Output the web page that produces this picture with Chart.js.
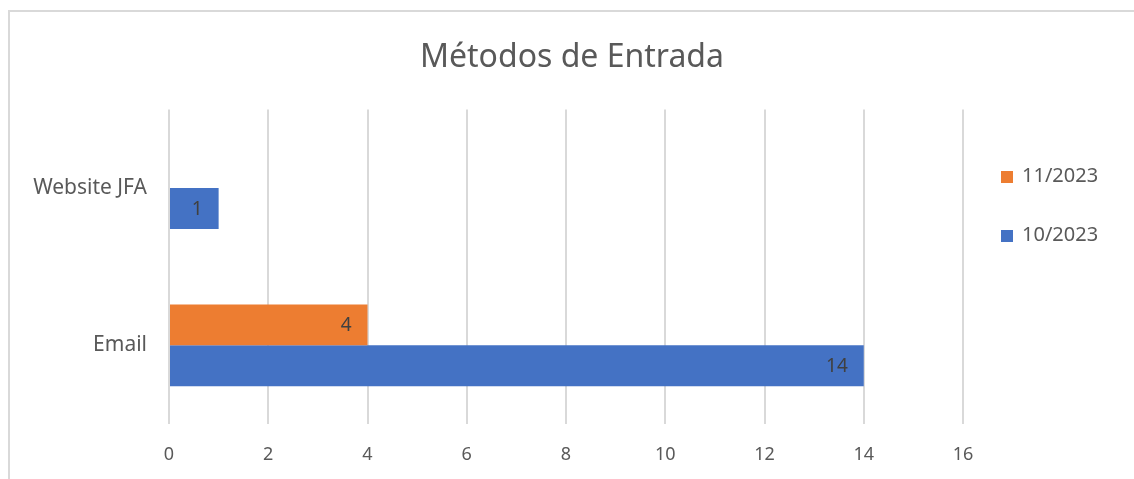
<!DOCTYPE html>
<html lang="pt">
<head>
    <meta charset="UTF-8">
    <title>Métodos de Entrada</title>
    <script src="https://cdn.jsdelivr.net/npm/chart.js"></script>
    <style>
        body { margin: 0; background: #fff; font-family: "Noto Sans", sans-serif; }
        #wrap {
            position: absolute; left: 8px; top: 10px;
            width: 1124px; height: 467px;
            border-left: 2px solid #d9d9d9; border-top: 2px solid #d9d9d9;
        }
        #legend { position: absolute; left: 991px; top: 159px; }
        .item { position: relative; height: 59px; color: #595959; font-size: 20px; }
        .item span.box { position: absolute; left: 0; top: 0; width: 12px; height: 12px; }
        .item span.txt { position: absolute; left: 21px; top: -10px; }
    </style>
</head>
<body>
<div id="wrap">
    <canvas id="myChart" width="1124" height="467"></canvas>
    <div id="legend"></div>
</div>
<script>
const categories = ['Website JFA', 'Email'];
const seriesNames = ['11/2023', '10/2023'];
const nov2023 = [null, 4];
const oct2023 = [1, 14];
const seriesColors = ['#ED7D31', '#4472C4'];
const xTicks = [0, 2, 4, 6, 8, 10, 12, 14, 16];

// legend, same order as the datasets
const legendBox = document.getElementById('legend');
seriesNames.forEach((name, i) => {
    const d = document.createElement('div');
    d.className = 'item';
    d.innerHTML = '<span class="box" style="background:' + seriesColors[i] + '"></span><span class="txt">' + name + '</span>';
    legendBox.appendChild(d);
});

// values written inside the end of each bar
const barLabels = {
    id: 'barLabels',
    afterDatasetsDraw(chart) {
        const ctx = chart.ctx;
        ctx.save();
        ctx.font = '19px "Noto Sans"';
        ctx.fillStyle = '#404040';
        ctx.textAlign = 'right';
        ctx.textBaseline = 'middle';
        chart.data.datasets.forEach((ds, i) => {
            chart.getDatasetMeta(i).data.forEach((bar, j) => {
                const v = ds.data[j];
                if (v === null || v === undefined) return;
                ctx.fillText(String(v), bar.x - 16, bar.y + 1);
            });
        });
        ctx.restore();
    }
};

new Chart(document.getElementById('myChart'), {
    type: 'bar',
    data: {
        labels: categories,
        datasets: [
            { label: seriesNames[0], data: nov2023, backgroundColor: seriesColors[0] },
            { label: seriesNames[1], data: oct2023, backgroundColor: seriesColors[1] }
        ]
    },
    plugins: [barLabels],
    options: {
        indexAxis: 'y',
        responsive: false,
        animation: false,
        categoryPercentage: 0.52,
        barPercentage: 1,
        layout: { padding: 0 },
        plugins: {
            legend: { display: false },
            tooltip: { enabled: false },
            title: {
                display: true,
                text: 'Métodos de Entrada',
                color: '#595959',
                font: { family: 'Noto Sans', size: 32, weight: 'normal' },
                padding: { top: 27, bottom: 32 }
            }
        },
        scales: {
            x: {
                min: 0, max: 16,
                afterBuildTicks: s => { s.ticks = xTicks.map(v => ({ value: v })); },
                afterFit: s => { s.height = 55; },
                grid: { color: '#d9d9d9', lineWidth: 2, drawTicks: false },
                border: { display: false },
                ticks: { color: '#595959', padding: 20, font: { family: 'Noto Sans', size: 18 } }
            },
            y: {
                afterFit: s => { s.width = 159; },
                grid: { display: false, drawTicks: false },
                border: { display: false },
                ticks: { color: '#595959', padding: 22, font: { family: 'Noto Sans', size: 21 } }
            },
            // empty axis that keeps the space for the legend on the right
            spacer: {
                type: 'linear',
                position: 'right',
                afterFit: s => { s.width = 171; },
                grid: { display: false, drawTicks: false },
                border: { display: false },
                ticks: { display: false }
            }
        }
    }
});
</script>
</body>
</html>
